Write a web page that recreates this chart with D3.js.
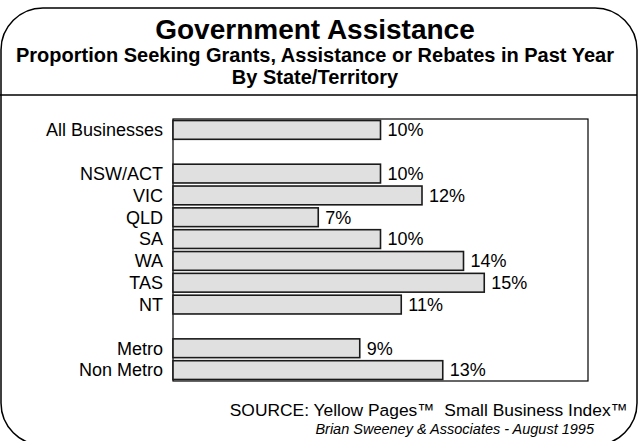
<!DOCTYPE html>
<html>
<head>
<meta charset="utf-8">
<script src="https://cdn.jsdelivr.net/npm/d3@7"></script>
<style>
  html, body { margin: 0; padding: 0; background: #fff; }
  svg { display: block; }
  text { font-family: "Liberation Sans", Arial, sans-serif; fill: #000; }
</style>
</head>
<body>
<svg id="chart" width="639" height="441"></svg>
<script>
// Proportion of businesses seeking government grants, assistance or rebates
const categories = ["All Businesses", "NSW/ACT", "VIC", "QLD", "SA", "WA", "TAS", "NT", "Metro", "Non Metro"];
const groups     = ["total", "state", "state", "state", "state", "state", "state", "state", "region", "region"];
const values     = [10, 10, 12, 7, 10, 14, 15, 11, 9, 13];
const xTicks     = [0, 20];

const titleText    = "Government Assistance";
const subtitleText = ["Proportion Seeking Grants, Assistance or Rebates in Past Year", "By State/Territory"];
const sourceText   = "SOURCE: Yellow Pages\u2122\u00a0\u00a0Small Business Index\u2122";
const creditText   = "Brian Sweeney & Associates - August 1995";

const svg = d3.select("#chart");

// rounded outer frame (bottom edge runs just below the page)
svg.append("rect")
  .attr("x", 1).attr("y", 8)
  .attr("width", 636).attr("height", 437)
  .attr("rx", 42).attr("ry", 42)
  .attr("fill", "none").attr("stroke", "#000").attr("stroke-width", 1.5);

// header
const cx = 315;
svg.append("text")
  .attr("x", cx).attr("y", 39)
  .attr("text-anchor", "middle")
  .style("font-size", "28px").style("font-weight", "bold")
  .text(titleText);

svg.selectAll("text.sub").data(subtitleText).join("text")
  .attr("class", "sub")
  .attr("x", cx).attr("y", (d, i) => 62 + i * 22)
  .attr("text-anchor", "middle")
  .style("font-size", "20px").style("font-weight", "bold")
  .text(d => d);

svg.append("line")
  .attr("x1", 0).attr("x2", 637)
  .attr("y1", 95).attr("y2", 95)
  .attr("stroke", "#000").attr("stroke-width", 1.5);

// rows: one slot per category, with an empty slot between groups
const rows = [];
categories.forEach((c, i) => {
  if (i > 0 && groups[i] !== groups[i - 1]) rows.push("gap-" + i);
  rows.push(c);
});

const plotL = 173, plotR = 588, plotT = 119, plotB = 381;

const x = d3.scaleLinear().domain(d3.extent(xTicks)).range([plotL, plotR]);
const y = d3.scaleBand().domain(rows).range([plotT, plotB])
  .paddingInner(0.14).paddingOuter(0.07);

// plot frame
svg.append("rect")
  .attr("x", plotL).attr("y", plotT)
  .attr("width", plotR - plotL).attr("height", plotB - plotT)
  .attr("fill", "#fff").attr("stroke", "#000").attr("stroke-width", 1.2);

// bars
const data = categories.map((c, i) => ({ c, v: values[i] }));
svg.append("g").selectAll("rect").data(data).join("rect")
  .attr("x", x(0))
  .attr("y", d => y(d.c))
  .attr("width", d => x(d.v) - x(0))
  .attr("height", y.bandwidth())
  .attr("fill", "#e0e0e0")
  .attr("stroke", "#1a1a1a")
  .attr("stroke-width", 1.6);

// value labels
svg.append("g").selectAll("text").data(data).join("text")
  .attr("x", d => x(d.v) + 7)
  .attr("y", d => y(d.c) + y.bandwidth() / 2 + 6.3)
  .style("font-size", "18px")
  .text(d => d.v + "%");

// category axis
const yAxis = d3.axisLeft(y).tickValues(categories).tickSize(0).tickPadding(10);
const ag = svg.append("g").attr("transform", `translate(${plotL},0)`).call(yAxis);
ag.select(".domain").remove();
ag.selectAll("text")
  .attr("dy", null)
  .attr("y", 6.3)
  .style("font-size", "18px")
  .style("font-family", "'Liberation Sans', Arial, sans-serif")
  .attr("fill", "#000");

// source / credit
svg.append("text")
  .attr("x", 628).attr("y", 416)
  .attr("text-anchor", "end")
  .style("font-size", "17.4px")
  .text(sourceText);

svg.append("text")
  .attr("x", 594).attr("y", 434)
  .attr("text-anchor", "end")
  .style("font-size", "14.5px").style("font-style", "italic")
  .text(creditText);
</script>
</body>
</html>
